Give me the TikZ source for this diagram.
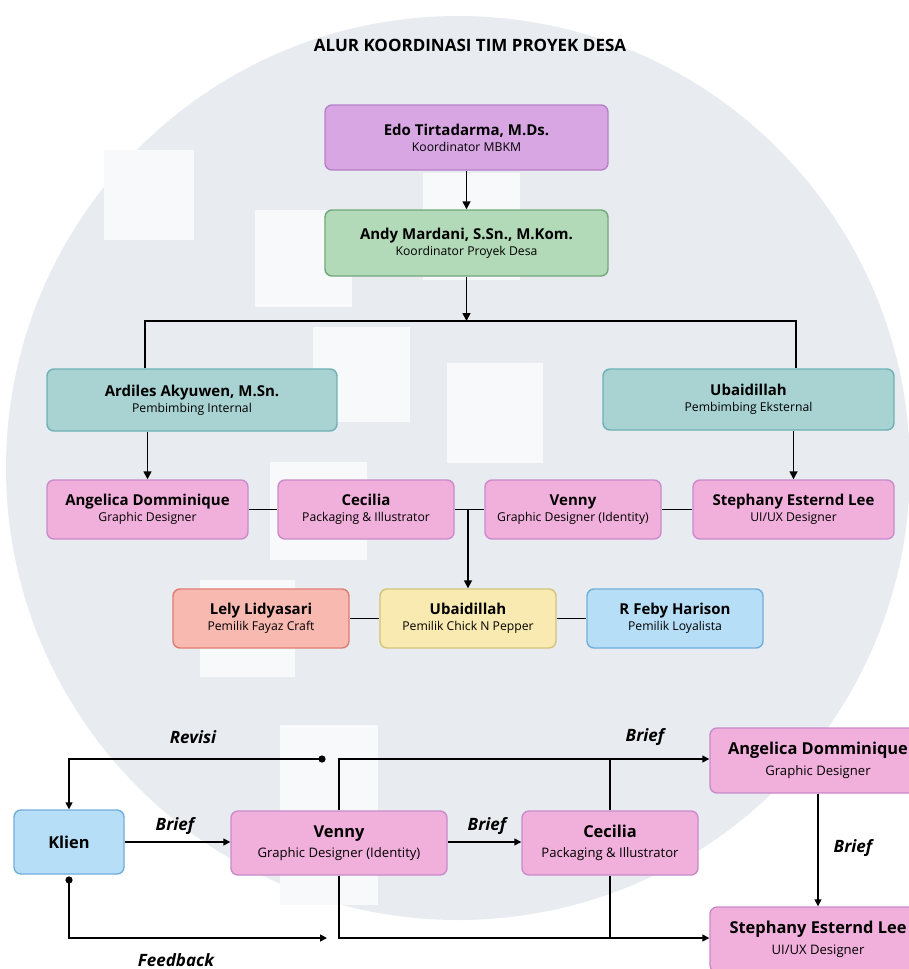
\documentclass[tikz,border=0pt]{standalone}
\usepackage{fontspec}
\setmainfont{Open Sans}
\usetikzlibrary{arrows.meta}
\definecolor{wm}{HTML}{E8ECF0}
\definecolor{lavF}{HTML}{D8A7E3}\definecolor{lavD}{HTML}{B77FC8}
\definecolor{grnF}{HTML}{B2D9B8}\definecolor{grnD}{HTML}{72A879}
\definecolor{tealF}{HTML}{A9D2D3}\definecolor{tealD}{HTML}{6DB1B5}
\definecolor{pnkF}{HTML}{F1B0DB}\definecolor{pnkD}{HTML}{C88BCB}
\definecolor{salF}{HTML}{F8B9B0}\definecolor{salD}{HTML}{DE7C73}
\definecolor{ylwF}{HTML}{F8EAB0}\definecolor{ylwD}{HTML}{D4C47A}
\definecolor{bluF}{HTML}{B7DEF7}\definecolor{bluD}{HTML}{72AEDB}
\newcommand{\nmA}[2]{{\fontsize{15}{17}\selectfont\bfseries #1}\\[2pt]#2}
\newcommand{\nmB}[2]{{\fontsize{16.4}{18}\selectfont\bfseries #1}\\[5pt]#2}
\tikzset{
  box/.style={draw, rounded corners=7pt, line width=1.4pt, inner sep=0pt, align=center,
    font=\fontsize{12.2}{14}\selectfont},
  boxB/.style={box, font=\fontsize{13.1}{15.5}\selectfont},
  lav/.style={fill=lavF, draw=lavD},
  grn/.style={fill=grnF, draw=grnD},
  teal/.style={fill=tealF, draw=tealD},
  pnk/.style={fill=pnkF, draw=pnkD},
  sal/.style={fill=salF, draw=salD},
  ylw/.style={fill=ylwF, draw=ylwD},
  blu/.style={fill=bluF, draw=bluD},
  ln/.style={line width=1.6pt, black},
  arr/.style={ln, -{Triangle[width=8pt,length=8pt]}},
  lnB/.style={line width=1.5pt, black},
  arrB/.style={lnB, -{Triangle[width=7pt,length=7pt]}},
  lbl/.style={font=\fontsize{17}{19}\selectfont\bfseries\itshape, inner sep=0pt},
}
\begin{document}
\begin{tikzpicture}[x=1pt,y=-1pt]
\useasboundingbox (0,0) rectangle (909,969);
\clip (0,0) rectangle (909,969);
\fill[white] (0,0) rectangle (909,969);
% watermark
\fill[wm] (458,468) circle (452pt);
\foreach \a/\b/\c/\d in {104/150/194/240, 255/210/352/307, 423/173/520/280, 313/327/410/422,
  447/363/543/463, 270/462/367/560, 200/580/295/677, 280/725/378/905}
  \fill[white!70!wm] (\a,\b) rectangle (\c,\d);
% title
\node[font=\fontsize{17}{19}\selectfont\bfseries] (title) at (470,45) {ALUR KOORDINASI TIM PROYEK DESA};
% top chart
\node[box,lav,minimum width=283pt,minimum height=65pt] (edo) at (466.5,137.5) {\nmA{Edo Tirtadarma, M.Ds.}{Koordinator MBKM}};
\node[box,grn,minimum width=283pt,minimum height=66pt] (andy) at (466.5,243) {\nmA{Andy Mardani, S.Sn., M.Kom.}{Koordinator Proyek Desa}};
\node[box,teal,minimum width=290pt,minimum height=62pt] (ardiles) at (192,400) {\nmA{Ardiles Akyuwen, M.Sn.}{Pembimbing Internal}};
\node[box,teal,minimum width=291pt,minimum height=61pt] (ubext) at (748.5,399.5) {\nmA{Ubaidillah}{Pembimbing Eksternal}};
\node[box,pnk,minimum width=201pt,minimum height=59pt] (angel) at (147.5,509.5) {\nmA{Angelica Domminique}{Graphic Designer}};
\node[box,pnk,minimum width=176pt,minimum height=59pt] (cec) at (366,509.5) {\nmA{Cecilia}{Packaging \& Illustrator}};
\node[box,pnk,minimum width=176pt,minimum height=59pt] (venny) at (573,509.5) {\nmA{Venny}{Graphic Designer (Identity)}};
\node[box,pnk,minimum width=201pt,minimum height=59pt] (steph) at (793.5,509.5) {\nmA{Stephany Esternd Lee}{UI/UX Designer}};
\node[box,sal,minimum width=176pt,minimum height=59pt] (lely) at (261,618.5) {\nmA{Lely Lidyasari}{Pemilik Fayaz Craft}};
\node[box,ylw,minimum width=176pt,minimum height=59pt] (ubcnp) at (468,618.5) {\nmA{Ubaidillah}{Pemilik Chick N Pepper}};
\node[box,blu,minimum width=176pt,minimum height=59pt] (feby) at (675,618.5) {\nmA{R Feby Harison}{Pemilik Loyalista}};
\draw[arr] (edo) -- (andy);
\coordinate (bar) at (466.5,321);
\coordinate (barL) at (145,321);
\coordinate (barR) at (796,321);
\draw[arr] (andy) -- (bar);
\draw[ln] (barL |- ardiles.north) -- (barL) -- (barR) -- (barR |- ubext.north);
\draw[arr] (angel.north |- ardiles.south) -- (angel.north);
\draw[arr] (steph.north |- ubext.south) -- (steph.north);
\draw[ln] (angel.east) -- (cec.west);
\draw[ln] (cec.east) -- (venny.west);
\draw[ln] (venny.east) -- (steph.west);
\coordinate (jn) at (468,509.5);
\draw[arr] (jn) -- (ubcnp.north);
\draw[ln] (lely.east) -- (ubcnp.west);
\draw[ln] (ubcnp.east) -- (feby.west);
% bottom flow
\node[boxB,blu,minimum width=110pt,minimum height=64pt] (klien) at (69,842) {{\fontsize{16.4}{18}\selectfont\bfseries Klien}};
\node[boxB,pnk,minimum width=216pt,minimum height=64pt] (venny2) at (339,843) {\nmB{Venny}{Graphic Designer (Identity)}};
\node[boxB,pnk,minimum width=176pt,minimum height=64pt] (cec2) at (610,843) {\nmB{Cecilia}{Packaging \& Illustrator}};
\node[boxB,pnk,minimum width=216pt,minimum height=65pt] (angel2) at (818,760.5) {\nmB{Angelica Domminique}{Graphic Designer}};
\node[boxB,pnk,minimum width=216pt,minimum height=65pt] (steph2) at (818,939.5) {\nmB{Stephany Esternd Lee}{UI/UX Designer}};
\draw[arrB] (klien) -- (klien -| venny2.west);
\draw[arrB] (venny2.east |- klien) -- (cec2.west |- klien);
\coordinate (rv) at (322,759);
\draw[arrB] (rv) -- (rv -| klien.north) -- (klien.north);
\fill (rv) circle (3.6pt);
\coordinate (fb0) at (69,880);
\coordinate (fb1) at (327,938);
\draw[arrB] (fb0) -- (fb0 |- fb1) -- (fb1);
\fill (fb0) circle (3.6pt);
\coordinate (tj) at (339,759);
\coordinate (bj) at (339,938);
\draw[arrB] (venny2.north) -- (tj) -- (tj -| angel2.west);
\draw[lnB] (cec2.north) -- (cec2.north |- tj);
\draw[arrB] (venny2.south) -- (bj) -- (bj -| steph2.west);
\draw[lnB] (cec2.south) -- (cec2.south |- bj);
\draw[arrB] (angel2) -- (steph2);
\node[lbl] (l1) at (193,737) {Revisi};
\node[lbl] (l2) at (175,826) {Brief};
\node[lbl] (l3) at (176,960) {Feedback};
\node[lbl] (l4) at (487,826) {Brief};
\node[lbl] (l5) at (645,737) {Brief};
\node[lbl] (l6) at (853,848) {Brief};
\end{tikzpicture}
\end{document}
